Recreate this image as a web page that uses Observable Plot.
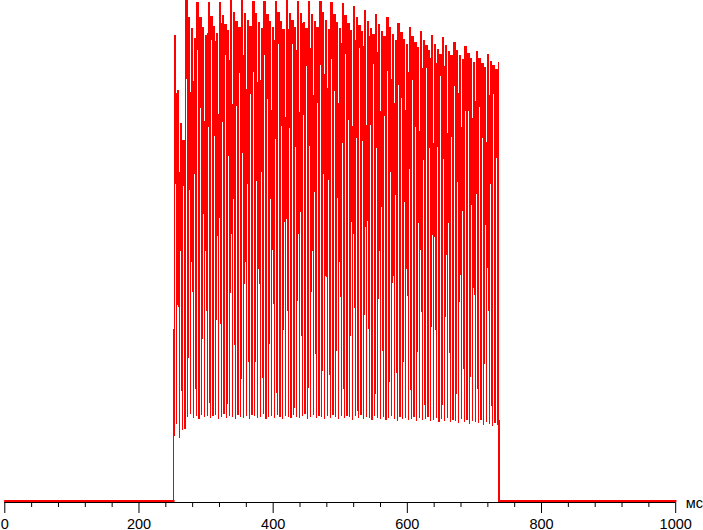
<!DOCTYPE html>
<html>
<head>
<meta charset="utf-8">
<script src="https://cdn.jsdelivr.net/npm/d3@7"></script>
<script src="https://cdn.jsdelivr.net/npm/@observablehq/plot@0.6"></script>
<style>
  html, body { margin: 0; padding: 0; background: #fff; }
  #chart { width: 703px; height: 530px; overflow: hidden; }
</style>
</head>
<body>
<div id="chart"></div>
<script>
// ---- data ----
// x axis ticks (ms)
const majorTicks = [0, 200, 400, 600, 800, 1000];
const minorTicks = [40, 80, 120, 160, 240, 280, 320, 360, 440, 480, 520, 560, 640, 680, 720, 760, 840, 880, 920, 960];
const unitLabel = ["мс"];

// light on / off instants (ms)
const lightOn = 251.9;
const lightOff = 736.6;
// first PWM pulse and PWM period (ms) — sampling grid of the pulses
const firstPulse = 253.2;
const pwmPeriod = 4.162;

// brightness at the top of each PWM pulse (relative units, 0 = dark)
const pulseHigh = [
  466, 411, 378, 361,
  501, 484, 473, 463,   499, 484, 474, 466,   499, 485, 475, 468,   499, 486, 477, 471,
  501, 489, 480, 474,   501, 488, 481, 475,   500, 488, 479, 473,   500, 487, 480, 474,
  500, 489, 480, 472,   501, 488, 481, 474,   500, 488, 479, 473,   500, 487, 480, 474,
  500, 489, 481, 472,   499, 487, 479, 473,   498, 486, 478, 471,   495, 484, 476, 470,
  491, 480, 473, 467,   487, 477, 470, 465,   484, 474, 467, 461,   478, 469, 462, 457,
  474, 465, 459, 454,   470, 461, 456, 451,   466, 457, 452, 447,   464, 456, 450, 446,
  459, 451, 446, 442,   455, 448, 443, 439,   450, 443, 438, 434,   447, 440, 436, 432,
  439
];
// brightness at the bottom of each PWM dip
const pulseLow = [
  78, 64, 72, 73,
  85, 88, 84, 86, 83, 87, 85, 86,
  84, 86, 87, 83, 85, 88, 84, 86,
  85, 83, 87, 85, 84, 86, 83, 87,
  86, 84, 85, 88, 83, 85, 86, 84,
  87, 85, 83, 86, 85, 84, 87, 85,
  84, 86, 88, 83, 85, 87, 84, 86,
  85, 83, 86, 84, 87, 85, 83, 86,
  84, 86, 85, 82, 86, 84, 87, 83,
  85, 84, 82, 86, 84, 83, 85, 82,
  84, 86, 83, 81, 85, 83, 84, 82,
  83, 85, 81, 84, 82, 83, 85, 81,
  82, 84, 80, 83, 81, 84, 80, 82,
  81, 79, 83, 80, 82, 78, 81, 80,
  79, 82, 77, 80, 78, 76, 79, 77
];

// ---- build the trace ----
const onTrace = [{t: lightOn, v: 0}];
pulseHigh.forEach((h, i) => {
  const t = firstPulse + i * pwmPeriod;
  onTrace.push({t, v: h});
  if (i < pulseLow.length) {
    onTrace.push({t: t + 0.4 * pwmPeriod, v: h});
    onTrace.push({t: t + 0.7 * pwmPeriod, v: pulseLow[i]});
  }
});
onTrace.push({t: lightOff, v: 0});

const offTrace = [
  {t: 0, v: 0, seg: "a"}, {t: lightOn, v: 0, seg: "a"},
  {t: lightOff, v: 0, seg: "b"}, {t: 1000, v: 0, seg: "b"}
];

const chart = Plot.plot({
  width: 703,
  height: 530,
  marginLeft: 4.3,
  marginRight: 27.8,
  marginTop: 0,
  marginBottom: 28,
  x: {domain: [0, 1000], label: null},
  y: {domain: [-1, 501], axis: null},
  style: {
    fontFamily: "'Liberation Sans', Arial, sans-serif",
    fontSize: "14.5px",
    color: "black",
    background: "white",
    overflow: "visible"
  },
  marks: [
    Plot.line(offTrace, {x: "t", y: "v", z: "seg", stroke: "#ff0000", strokeWidth: 2, dy: -0.5}),
    Plot.line(onTrace, {x: "t", y: "v", stroke: "#ff0000", strokeWidth: 1.2, shapeRendering: "crispEdges"}),
    Plot.ruleY([-1], {stroke: "black"}),
    Plot.axisX({ticks: majorTicks, tickSize: 11, tickPadding: 5, tickFormat: "d", stroke: "black", fill: "black", label: null}),
    Plot.axisX({ticks: minorTicks, tickSize: 5, tickFormat: () => "", stroke: "black", label: null}),
    Plot.text(unitLabel, {frameAnchor: "bottom-right", dx: 10, dy: 5, textAnchor: "start", lineAnchor: "bottom", fill: "black", fontSize: 14.5})
  ]
});
document.getElementById("chart").appendChild(chart);
</script>
</body>
</html>
